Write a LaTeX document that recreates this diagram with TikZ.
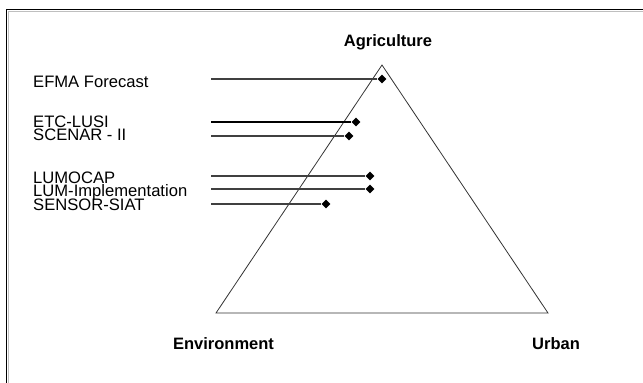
\documentclass[tikz,border=0pt]{standalone}
\usepackage{fontspec}
\setmainfont{Liberation Sans}
\usetikzlibrary{shapes.geometric}

\begin{document}
\begin{tikzpicture}[
  x=1pt,
  y=-1pt,
  font=\fontsize{16.6}{18}\selectfont,
  project/.style={anchor=base west, inner sep=0pt},
  corner/.style={anchor=base, inner sep=0pt, font=\fontsize{16.5}{18}\selectfont\bfseries},
  dot/.style={diamond, fill=black, inner sep=0pt, minimum size=9pt},
  feed/.style={draw=black!75, line width=1.1pt},
  side/.style={draw=black!80, line width=0.8pt}
]
\useasboundingbox (0,0) rectangle (643,383);

% panel frame, only top and left edges show
\draw[black, line width=1.3pt] (6.5,383) -- (6.5,9.3) -- (643,9.3);
\draw[black!25, line width=1pt] (8.3,383) -- (8.3,11) -- (643,11);

% triangle corners
\coordinate (agri) at (382,65);
\coordinate (env) at (216,313);
\coordinate (urb) at (548,313);
\draw[side] (agri) -- (env) -- (urb) -- cycle;

\node[corner] (agrilabel) at (388,46) {Agriculture};
\node[corner] (envlabel) at (223.5,349) {Environment};
\node[corner] (urblabel) at (556,349) {Urban};

% project names
\node[project] (efmalabel) at (33,87) {EFMA Forecast};
\node[project] (etclabel) at (33,127) {ETC-LUSI};
\node[project] (scenarlabel) at (33,140) {SCENAR - II};
\node[project] (lumocaplabel) at (33,183) {LUMOCAP};
\node[project] (lumimpllabel) at (33,196.5) {LUM-Implementation};
\node[project] (sensorlabel) at (33,210) {SENSOR-SIAT};

% positions inside the triangle
\node[dot] (efma) at (382,79) {};
\node[dot] (etc) at (356,122) {};
\node[dot] (scenar) at (349,136) {};
\node[dot] (lumocap) at (370,176) {};
\node[dot] (lumimpl) at (370,189) {};
\node[dot] (sensor) at (326,204) {};

\coordinate (efma-in) at (211,79);
\coordinate (etc-in) at (211,122);
\coordinate (scenar-in) at (211,136);
\coordinate (lumocap-in) at (211,176);
\coordinate (lumimpl-in) at (211,189);
\coordinate (sensor-in) at (211,204);

\draw[feed] (efma-in) -- (efma);
\draw[feed, draw=black] (etc-in) -- (etc);
\draw[feed] (scenar-in) -- (scenar);
\draw[feed] (lumocap-in) -- (lumocap);
\draw[feed] (lumimpl-in) -- (lumimpl);
\draw[feed] (sensor-in) -- (sensor);

\end{tikzpicture}
\end{document}
